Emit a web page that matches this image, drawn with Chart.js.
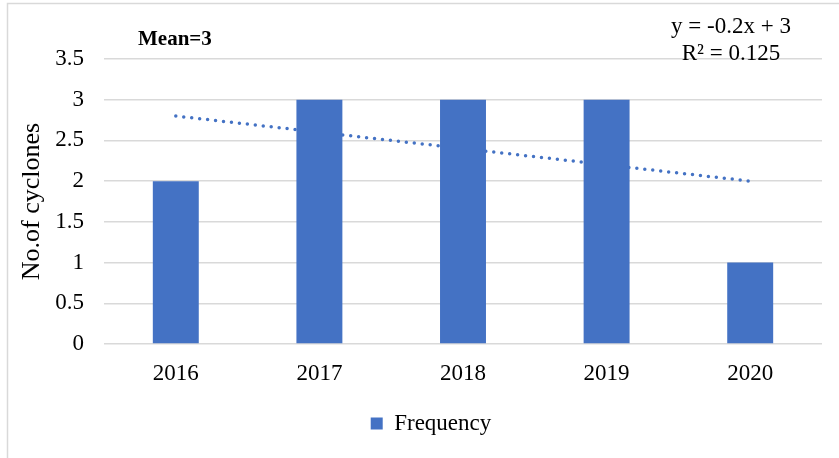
<!DOCTYPE html>
<html>
<head>
<meta charset="utf-8">
<script src="https://cdn.jsdelivr.net/npm/chart.js@4"></script>
<style>
  html, body { margin: 0; padding: 0; background: #fff; }
  #wrap { width: 839px; height: 458px; position: relative; }
</style>
</head>
<body>
<div id="wrap"><canvas id="myChart" width="839" height="458"></canvas></div>
<script>
// dados do gráfico
var years = ['2016', '2017', '2018', '2019', '2020'];
var frequency = [2, 3, 3, 3, 1];
var trendValues = [2.8, 2.6, 2.4, 2.2, 2.0];
var yMax = 3.5;
var yStep = 0.5;
var meanLabel = 'Mean=3';
var equationLines = ['y = -0.2x + 3', 'R\u00b2 = 0.125'];

var serif = '"Liberation Serif", "Times New Roman", serif';
var blue = '#4472C4';

// textos extras + moldura
var annotations = {
  id: 'annotations',
  afterLayout: function (chart) {
    // empurra a legenda um pouco pra direita
    chart.legend.left += 20;
    chart.legend.right += 20;
  },
  beforeDraw: function (chart) {
    var ctx = chart.ctx;
    ctx.save();
    ctx.strokeStyle = '#d9d9d9';
    ctx.lineWidth = 1.5;
    ctx.strokeRect(7.5, 3.5, 900, 600);
    ctx.restore();
  },
  afterDraw: function (chart) {
    var ctx = chart.ctx;
    ctx.save();
    ctx.fillStyle = '#000';
    ctx.textBaseline = 'alphabetic';
    ctx.font = 'bold 21px ' + serif;
    ctx.textAlign = 'left';
    ctx.fillText(meanLabel, 138, 45);
    ctx.font = '23px ' + serif;
    ctx.textAlign = 'center';
    ctx.fillText(equationLines[0], 731, 33);
    ctx.fillText(equationLines[1], 731, 60);
    ctx.restore();
  }
};

var ctx = document.getElementById('myChart');
var myChart = new Chart(ctx, {
  type: 'bar',
  data: {
    labels: years,
    datasets: [
      {
        type: 'bar',
        label: 'Frequency',
        data: frequency,
        backgroundColor: blue,
        borderWidth: 0,
        barPercentage: 0.32,
        categoryPercentage: 1,
        order: 1
      },
      {
        type: 'line',
        label: 'Linear (Frequency)',
        data: trendValues,
        borderColor: blue,
        borderWidth: 3.5,
        borderDash: [0, 8],
        borderCapStyle: 'round',
        pointRadius: 0,
        fill: false,
        order: 2
      }
    ]
  },
  options: {
    responsive: false,
    animation: false,
    layout: { padding: { top: 59, right: 17, left: 0, bottom: 13 } },
    plugins: {
      tooltip: { enabled: false },
      legend: {
        position: 'bottom',
        labels: {
          filter: function (item) { return item.datasetIndex === 0; },
          boxWidth: 12,
          boxHeight: 12,
          color: '#000',
          font: { family: serif, size: 23 }
        }
      }
    },
    scales: {
      x: {
        grid: { display: false },
        border: { display: false },
        ticks: { color: '#000', padding: 8, font: { family: serif, size: 23 } },
        afterFit: function (scale) { scale.height = 58; }
      },
      y: {
        min: 0,
        max: yMax,
        ticks: {
          stepSize: yStep,
          color: '#000',
          padding: 20,
          font: { family: serif, size: 23 },
          callback: function (v) { return String(v); }
        },
        grid: { color: '#d9d9d9', lineWidth: 1.5, drawTicks: false },
        border: { display: false },
        title: {
          display: true,
          text: 'No.of cyclones',
          color: '#000',
          font: { family: serif, size: 26 },
          padding: { top: 17, bottom: 0 }
        },
        afterFit: function (scale) { scale.width = 104; }
      }
    }
  },
  plugins: [annotations]
});
</script>
</body>
</html>
